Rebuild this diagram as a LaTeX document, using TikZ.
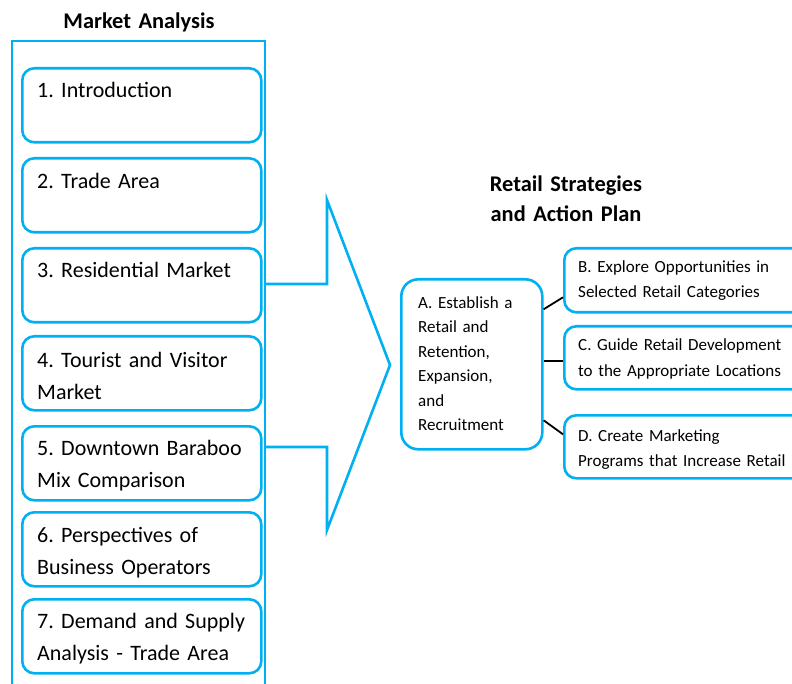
\documentclass[tikz,border=0pt]{standalone}
\usepackage{fontspec}
\setmainfont{Carlito}
\definecolor{cyanline}{HTML}{00B0F0}
\frenchspacing
\begin{document}
\begin{tikzpicture}[x=1pt,y=-1pt,
  bluebox/.style={draw=cyanline, line width=2.6pt, rounded corners=12pt, minimum width=239pt, minimum height=74pt, anchor=north west, inner sep=0pt},
  boxtext/.style={anchor=base west, inner sep=0pt, align=left, text width=225pt, font=\fontsize{22}{32}\selectfont},
  stratbox/.style={draw=cyanline, line width=2.6pt, rounded corners=12pt, minimum width=250pt, minimum height=63pt, anchor=north west, inner sep=0pt},
  strattext/.style={anchor=base west, inner sep=0pt, align=left, text width=215pt, font=\fontsize{17}{25}\selectfont},
  titletext/.style={inner sep=0pt, align=center, text width=220pt, font=\bfseries\fontsize{22.4}{30}\selectfont},
  link/.style={draw=black, line width=1.8pt}]
\useasboundingbox (0,0) rectangle (792,684);
\clip (0,0) rectangle (792,684);
% titles
\node[titletext, anchor=base] (t1) at (139,29) {Market Analysis};
\node[titletext, anchor=base] (t2) at (566,192) {Retail Strategies\\and Action Plan};
% outer frame
\draw[cyanline, line width=2.6pt] (12,700) -- (12,41) -- (265,41) -- (265,700);
% left boxes
\node[bluebox] (b1) at (21,67) {};
\node[bluebox] (b2) at (21,157) {};
\node[bluebox] (b3) at (21,247) {};
\node[bluebox] (b4) at (21,335) {};
\node[bluebox] (b5) at (21,425) {};
\node[bluebox] (b6) at (21,511) {};
\node[bluebox] (b7) at (21,598) {};
\node[boxtext] (l1) at (37,98) {1. Introduction};
\node[boxtext] (l2) at (37,189) {2. Trade Area};
\node[boxtext] (l3) at (37,278) {3. Residential Market};
\node[boxtext] (l4) at (37,367) {4. Tourist and Visitor\\Market};
\node[boxtext] (l5) at (37,455) {5. Downtown Baraboo\\Mix Comparison};
\node[boxtext] (l6) at (37,542) {6. Perspectives of\\Business Operators};
\node[boxtext] (l7) at (37,628) {7. Demand and Supply\\Analysis - Trade Area};
% big arrow
\draw[cyanline, line width=2.6pt, line join=miter] (265,284) -- (327,284) -- (327,200) -- (390,365) -- (327,530) -- (327,447) -- (265,447);
% strategy boxes
\node[draw=cyanline, line width=2.6pt, rounded corners=17pt, minimum width=141pt, minimum height=170pt, anchor=north west, inner sep=0pt] (A) at (400,278) {};
\node[strattext, text width=120pt, font=\fontsize{17}{24.5}\selectfont] (At) at (418,308.5) {A. Establish a\\Retail and\\Retention,\\Expansion,\\and\\Recruitment};
\node[stratbox, minimum height=64pt] (B) at (563,247) {};
\node[stratbox] (C) at (563,325) {};
\node[stratbox] (D) at (563,414) {};
\node[strattext] (Bt) at (578,273) {B. Explore Opportunities in\\Selected Retail Categories};
\node[strattext] (Ct) at (578,351) {C. Guide Retail Development\\to the Appropriate Locations};
\node[strattext] (Dt) at (578,441) {D. Create Marketing\\Programs that Increase Retail};
% connectors
\draw[link] ([yshift=55pt]A.east) -- ([yshift=-17pt]B.west);
\draw[link] ([yshift=3pt]A.east) -- ([yshift=-3.5pt]C.west);
\draw[link] ([yshift=-56pt]A.east) -- ([yshift=12.5pt]D.west);
\end{tikzpicture}
\end{document}
